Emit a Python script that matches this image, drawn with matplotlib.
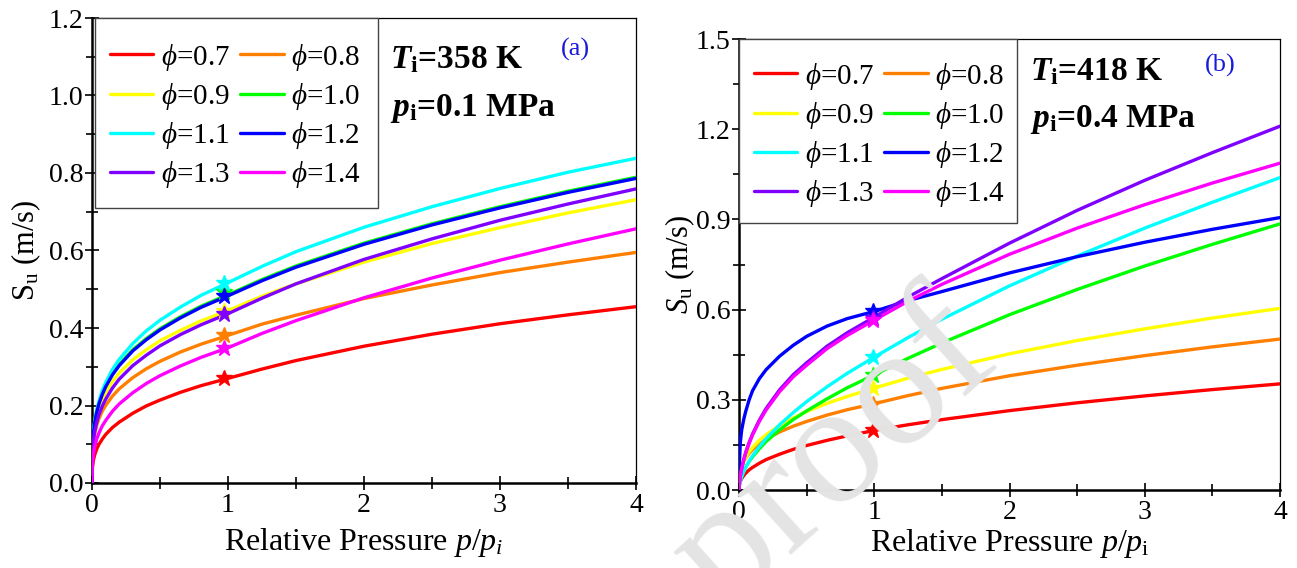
import matplotlib
matplotlib.use("Agg")
import matplotlib.pyplot as plt
from matplotlib.ticker import MultipleLocator, FormatStrFormatter
from matplotlib.patches import Rectangle

plt.rcParams['font.family'] = ['Liberation Serif', 'DejaVu Serif']
plt.rcParams['mathtext.fontset'] = 'custom'
plt.rcParams['mathtext.rm'] = 'Liberation Serif'
plt.rcParams['mathtext.it'] = 'Liberation Serif:italic'
plt.rcParams['mathtext.bf'] = 'Liberation Serif:bold'
plt.rcParams['mathtext.bfit'] = 'Liberation Serif:bold:italic'

# ---------------- data ----------------
phi_labels = ['0.7', '0.8', '0.9', '1.0', '1.1', '1.2', '1.3', '1.4']
colors = ['#ff0000', '#ff8000', '#ffff00', '#00ff00', '#00ffff', '#0000ff', '#8000ff', '#ff00ff']

p_rel = [0, 0.003, 0.01, 0.02, 0.035, 0.05, 0.075, 0.1, 0.15, 0.2, 0.3, 0.4, 0.5, 0.65, 0.8,
         1, 1.25, 1.5, 2, 2.5, 3, 3.5, 4]

# panel (a): Ti = 358 K, pi = 0.1 MPa
su_a_07 = [0, 0.039, 0.058, 0.073, 0.088, 0.099, 0.113, 0.125, 0.143, 0.157, 0.180, 0.199, 0.214, 0.234, 0.251,
           0.270, 0.294, 0.316, 0.353, 0.384, 0.411, 0.434, 0.455]
su_a_08 = [0, 0.075, 0.105, 0.127, 0.149, 0.165, 0.185, 0.200, 0.224, 0.243, 0.272, 0.295, 0.314, 0.338, 0.358,
           0.381, 0.410, 0.433, 0.476, 0.511, 0.543, 0.570, 0.595]
su_a_09 = [0, 0.087, 0.123, 0.149, 0.174, 0.192, 0.216, 0.233, 0.262, 0.284, 0.318, 0.344, 0.367, 0.394, 0.418,
           0.445, 0.482, 0.514, 0.570, 0.618, 0.659, 0.697, 0.731]
su_a_10 = [0, 0.093, 0.130, 0.158, 0.186, 0.206, 0.231, 0.251, 0.282, 0.306, 0.344, 0.373, 0.398, 0.429, 0.456,
           0.486, 0.525, 0.560, 0.619, 0.669, 0.713, 0.753, 0.789]
su_a_11 = [0, 0.090, 0.130, 0.160, 0.189, 0.210, 0.238, 0.259, 0.293, 0.319, 0.360, 0.393, 0.420, 0.454, 0.484,
           0.517, 0.559, 0.597, 0.660, 0.713, 0.760, 0.802, 0.838]
su_a_12 = [0, 0.090, 0.127, 0.155, 0.183, 0.203, 0.228, 0.248, 0.279, 0.303, 0.341, 0.370, 0.395, 0.426, 0.453,
           0.483, 0.522, 0.557, 0.616, 0.666, 0.710, 0.750, 0.786]
su_a_13 = [0, 0.074, 0.107, 0.133, 0.157, 0.175, 0.198, 0.216, 0.245, 0.268, 0.303, 0.330, 0.354, 0.383, 0.408,
           0.437, 0.477, 0.514, 0.577, 0.630, 0.678, 0.720, 0.759]
su_a_14 = [0, 0.050, 0.075, 0.094, 0.114, 0.128, 0.147, 0.161, 0.185, 0.204, 0.233, 0.257, 0.277, 0.302, 0.324,
           0.349, 0.386, 0.419, 0.478, 0.529, 0.575, 0.617, 0.656]
star_a_x = 0.97
star_a = [0.270, 0.381, 0.445, 0.492, 0.517, 0.483, 0.437, 0.349]

# panel (b): Ti = 418 K, pi = 0.4 MPa
su_b_07 = [0, 0.017, 0.029, 0.038, 0.048, 0.056, 0.067, 0.075, 0.089, 0.101, 0.119, 0.135, 0.148, 0.165, 0.180,
           0.198, 0.217, 0.234, 0.264, 0.290, 0.313, 0.334, 0.353]
su_b_08 = [0, 0.042, 0.063, 0.079, 0.095, 0.107, 0.122, 0.134, 0.153, 0.169, 0.193, 0.212, 0.228, 0.249, 0.267,
           0.287, 0.314, 0.338, 0.380, 0.415, 0.447, 0.476, 0.502]
su_b_09 = [0, 0.037, 0.059, 0.077, 0.095, 0.109, 0.127, 0.141, 0.165, 0.184, 0.215, 0.239, 0.261, 0.288, 0.311,
           0.339, 0.372, 0.401, 0.453, 0.497, 0.536, 0.572, 0.604]
su_b_10 = [0, 0.017, 0.032, 0.046, 0.063, 0.076, 0.095, 0.110, 0.137, 0.161, 0.200, 0.234, 0.263, 0.303, 0.340,
           0.383, 0.438, 0.489, 0.583, 0.667, 0.745, 0.817, 0.885]
su_b_11 = [0, 0.014, 0.029, 0.044, 0.061, 0.075, 0.096, 0.114, 0.144, 0.171, 0.217, 0.257, 0.294, 0.343, 0.388,
           0.442, 0.507, 0.568, 0.679, 0.778, 0.871, 0.957, 1.039]
su_b_12 = [0, 0.090, 0.160, 0.200, 0.235, 0.262, 0.300, 0.330, 0.370, 0.400, 0.445, 0.481, 0.511, 0.545, 0.570,
           0.594, 0.630, 0.660, 0.722, 0.776, 0.824, 0.867, 0.906]
su_b_13 = [0, 0.024, 0.048, 0.073, 0.101, 0.126, 0.158, 0.186, 0.232, 0.271, 0.333, 0.383, 0.423, 0.478, 0.523,
           0.575, 0.642, 0.703, 0.821, 0.930, 1.030, 1.122, 1.210]
su_b_14 = [0, 0.023, 0.047, 0.071, 0.099, 0.123, 0.155, 0.183, 0.228, 0.266, 0.327, 0.376, 0.415, 0.470, 0.514,
           0.565, 0.628, 0.684, 0.784, 0.871, 0.949, 1.021, 1.087]
star_b_x = 0.99
star_b = [0.198, 0.287, 0.339, 0.383, 0.442, 0.594, 0.572, 0.565]

series_a = [su_a_07, su_a_08, su_a_09, su_a_10, su_a_11, su_a_12, su_a_13, su_a_14]
series_b = [su_b_07, su_b_08, su_b_09, su_b_10, su_b_11, su_b_12, su_b_13, su_b_14]

# ---------------- figure ----------------
W, H = 1297, 568
fig = plt.figure(figsize=(W / 100, H / 100), dpi=100)

def px_axes(l, r, t, b):
    return fig.add_axes([l / W, 1 - b / H, (r - l) / W, (b - t) / H])

ax_a = px_axes(92, 636, 18, 483)
ax_b = px_axes(739, 1280, 39, 490)

# watermark
fig.text(835 / W, 1 - 455 / H, 'proof', fontsize=125, color='#e4e4e4',
         rotation=42, ha='center', va='center', zorder=0)


def style_axes(ax, ymax, ymaj, ymin, yfmt):
    ax.set_xlim(0, 4)
    ax.set_ylim(0, ymax)
    ax.xaxis.set_major_locator(MultipleLocator(1))
    ax.xaxis.set_minor_locator(MultipleLocator(0.5))
    ax.yaxis.set_major_locator(MultipleLocator(ymaj))
    ax.yaxis.set_minor_locator(MultipleLocator(ymin))
    ax.yaxis.set_major_formatter(FormatStrFormatter(yfmt))
    ax.tick_params(axis='both', which='both', direction='inout', top=False, right=False,
                   labelsize=20, width=1.2, colors='black')
    ax.tick_params(axis='x', which='major', pad=2)
    ax.tick_params(axis='y', which='major', pad=1)
    ax.tick_params(which='major', length=10)
    ax.tick_params(which='minor', length=8)
    for s in ['left', 'bottom']:
        ax.spines[s].set_linewidth(1.8)
    for s in ['top', 'right']:
        ax.spines[s].set_linewidth(0.9)
    ax.patch.set_alpha(0)


def draw(ax, series, star_x, stars, box, anchor):
    handles = []
    for ys, c, lab in zip(series, colors, phi_labels):
        assert len(ys) == len(p_rel)
        h, = ax.plot(p_rel, ys, color=c, lw=2.4, solid_capstyle='round', solid_joinstyle='round',
                     label=r'$\phi$=' + lab, zorder=3)
        handles.append(h)
    for s, c in zip(stars, colors):
        ax.plot([star_x], [s], marker='*', color=c, markersize=12, zorder=4, linestyle='none')
    # legend frame
    x0, y0, x1, y1 = box
    ax.add_patch(Rectangle((x0, y0), x1 - x0, y1 - y0, transform=ax.transAxes,
                           facecolor='white', edgecolor='#444444', lw=1.0, zorder=5,
                           clip_on=False))
    order = [0, 2, 4, 6, 1, 3, 5, 7]
    leg = ax.legend([handles[i] for i in order], [handles[i].get_label() for i in order],
                    ncol=2, loc='upper left', bbox_to_anchor=anchor,
                    borderaxespad=0.0, fontsize=21, handlelength=1.5, handletextpad=0.25,
                    columnspacing=0.35, labelspacing=0.28, borderpad=0.5,
                    frameon=False)
    leg.set_zorder(6)


style_axes(ax_a, 1.2, 0.2, 0.1, '%.1f')
draw(ax_a, series_a, star_a_x, star_a,
     (3 / 544, (483 - 208) / 465, 286 / 544, 1.0), (3 / 544, (483 - 27) / 465))
ax_a.set_xlabel(r'Relative Pressure $p/p_i$', fontsize=23, labelpad=6)
ax_a.set_ylabel(r'$\mathrm{S}_{\mathrm{u}}$ (m/s)', fontsize=22, labelpad=4)
ax_a.text(0.548, 0.91, r'$\boldsymbol{T}_{\mathbf{i}}$=358 K', transform=ax_a.transAxes,
          fontsize=24, fontweight='bold', ha='left', va='center', zorder=6)
ax_a.text(0.548, 0.806, r'$\boldsymbol{p}_{\mathbf{i}}$=0.1 MPa', transform=ax_a.transAxes,
          fontsize=24, fontweight='bold', ha='left', va='center', zorder=6)
ax_a.text(0.888, 0.932, '(a)', transform=ax_a.transAxes, fontsize=19, color='#1a1adb',
          ha='center', va='center')

style_axes(ax_b, 1.5, 0.3, 0.15, '%.1f')
draw(ax_b, series_b, star_b_x, star_b,
     (0.0, (490 - 223) / 451, 278 / 541, 1.0), (0.0, (490 - 46) / 451))
ax_b.set_xlabel(r'Relative Pressure $p/p_{\mathrm{i}}$', fontsize=23, labelpad=2)
ax_b.set_ylabel(r'$S_{\mathrm{u}}$ (m/s)', fontsize=22, labelpad=-1)
ax_b.text(0.538, 0.927, r'$\boldsymbol{T}_{\mathbf{i}}$=418 K', transform=ax_b.transAxes,
          fontsize=24, fontweight='bold', ha='left', va='center', zorder=6)
ax_b.text(0.538, 0.822, r'$\boldsymbol{p}_{\mathbf{i}}$=0.4 MPa', transform=ax_b.transAxes,
          fontsize=24, fontweight='bold', ha='left', va='center', zorder=6)
ax_b.text(0.889, 0.942, '(b)', transform=ax_b.transAxes, fontsize=19, color='#1a1adb',
          ha='center', va='center')

fig.savefig('out.png', dpi=100)
